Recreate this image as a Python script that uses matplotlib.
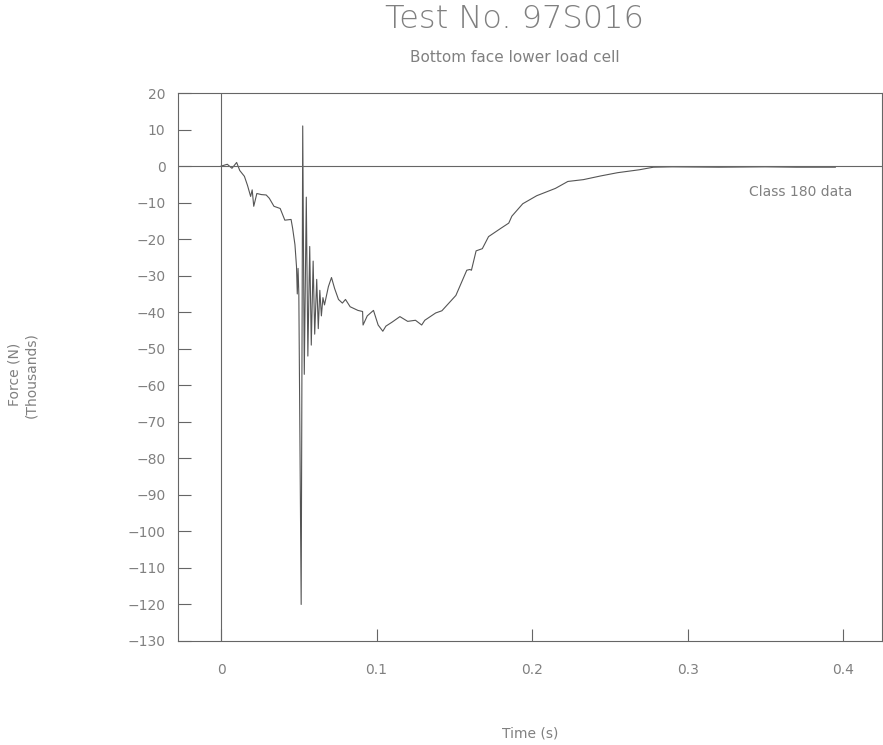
import matplotlib
matplotlib.use("Agg")
import matplotlib.pyplot as plt

# time (s) and force (thousands of N)
time = [0.000, 0.004, 0.007, 0.010, 0.012, 0.015, 0.017, 0.019, 0.020, 0.021,
        0.023, 0.026, 0.029, 0.031, 0.034, 0.038, 0.041, 0.045, 0.046, 0.0475,
        0.0485, 0.049, 0.0495, 0.050, 0.0515, 0.0525, 0.0535, 0.0548, 0.0558, 0.0570,
        0.0580, 0.0592, 0.0602, 0.0615, 0.0625, 0.0635, 0.0645, 0.0655, 0.0665, 0.0690,
        0.0710, 0.0730, 0.0755, 0.0780, 0.0800, 0.0830, 0.0880, 0.0910, 0.0913, 0.0940,
        0.0980, 0.1010, 0.1040, 0.1060, 0.1100, 0.1150, 0.1200, 0.1250, 0.1290, 0.1310,
        0.1380, 0.1420, 0.1510, 0.1580, 0.1600, 0.1610, 0.1640, 0.1680, 0.1720, 0.1800,
        0.1850, 0.1870, 0.1940, 0.2030, 0.2150, 0.2230, 0.2330, 0.2440, 0.2550, 0.2690,
        0.2780, 0.2900, 0.3200, 0.3500, 0.3700, 0.3950]
force = [0.0, 0.5, -0.6, 1.0, -1.2, -2.8, -5.3, -8.3, -6.5, -11.0,
         -7.5, -7.8, -7.9, -8.8, -11.0, -11.6, -14.8, -14.6, -17.0, -21.5,
         -27.5, -35.0, -28.0, -35.0, -120.0, 11.0, -57.0, -8.5, -52.0, -22.0,
         -49.0, -26.0, -46.0, -31.0, -44.5, -34.0, -41.0, -36.0, -38.0, -33.0,
         -30.5, -33.5, -36.5, -37.5, -36.5, -38.5, -39.5, -39.8, -43.5, -41.0,
         -39.5, -43.5, -45.2, -43.8, -42.7, -41.2, -42.5, -42.2, -43.5, -42.2,
         -40.2, -39.6, -35.4, -28.5, -28.3, -28.5, -23.2, -22.6, -19.3, -17.0,
         -15.6, -13.7, -10.3, -8.1, -6.1, -4.2, -3.7, -2.7, -1.8, -1.0,
         -0.3, -0.2, -0.3, -0.2, -0.3, -0.3]

xticks = [0, 0.1, 0.2, 0.3, 0.4]
xtick_labels = ["0", "0.1", "0.2", "0.3", "0.4"]
yticks = list(range(20, -131, -10))

ink = "#666666"
txt = "#808080"

fig = plt.figure(figsize=(8.83, 7.45), dpi=100)
ax = fig.add_axes([0.2016, 0.1396, 0.7974, 0.7355])

ax.plot(time, force, color="#555555", lw=0.8)
ax.axhline(0, color=ink, lw=0.8)
ax.axvline(0, color=ink, lw=0.8)

ax.set_xlim(-0.0277, 0.4251)
ax.set_ylim(-130, 20)
ax.set_xticks(xticks)
ax.set_xticklabels(xtick_labels)
ax.set_yticks(yticks)

for s in ["top", "right", "left", "bottom"]:
    ax.spines[s].set_color(ink)
    ax.spines[s].set_linewidth(0.8)

ax.tick_params(axis="both", direction="in", length=9, width=0.8, color=ink,
               labelcolor=txt, labelsize=10)
ax.tick_params(axis="x", pad=16)
ax.tick_params(axis="y", pad=9)

ax.text(0.406, -7.0, "Class 180 data", ha="right", va="center",
        color=txt, fontsize=10)

fig.text(0.583, 0.975, "Test No. 97S016", ha="center", va="center",
         color=txt, fontsize=23, fontweight="light")
fig.text(0.583, 0.923, "Bottom face lower load cell", ha="center", va="center",
         color=txt, fontsize=11)
fig.text(0.600, 0.016, "Time (s)", ha="center", va="center", color=txt, fontsize=10)
fig.text(0.026, 0.497, "Force (N)\n(Thousands)", ha="center", va="center",
         color=txt, fontsize=10, rotation=90, linespacing=1.3)

fig.savefig("out.png", dpi=100)
